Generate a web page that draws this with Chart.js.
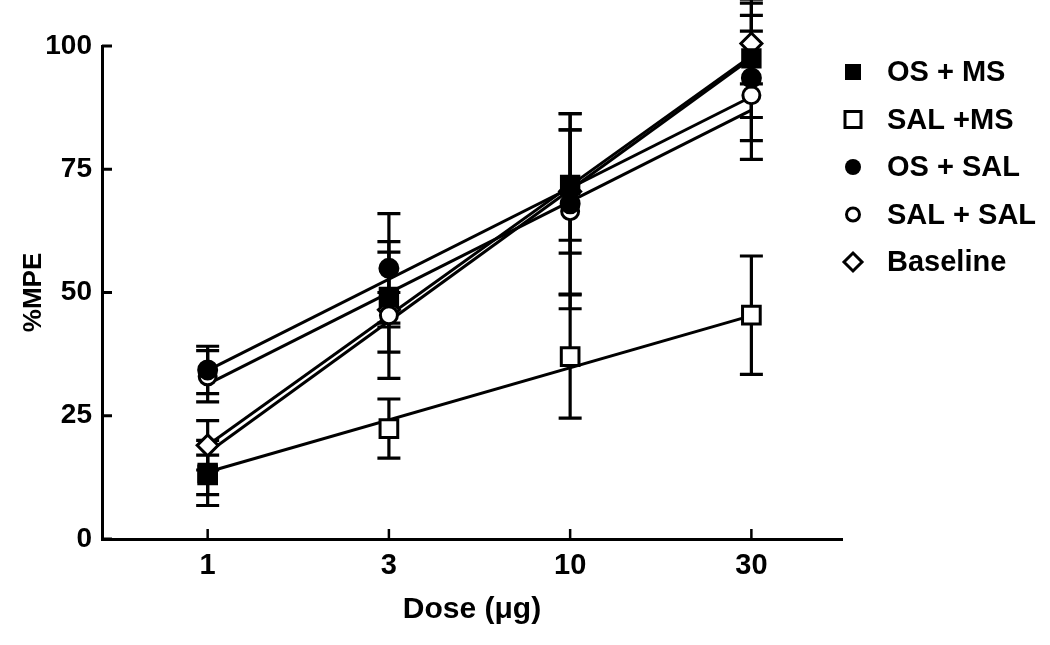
<!DOCTYPE html>
<html>
<head>
<meta charset="utf-8">
<script src="https://cdn.jsdelivr.net/npm/chart.js@4"></script>
<style>
html,body{margin:0;padding:0;background:#fff;}
#wrap{width:1050px;height:645px;}
</style>
</head>
<body>
<div id="wrap"><canvas id="c" width="1050" height="645"></canvas></div>
<script>
// ---- data ----
const doseLabels = ['1', '3', '10', '30'];
const groupNames = ['OS + MS', 'SAL +MS', 'OS + SAL', 'SAL + SAL', 'Baseline'];

const osMs      = [13.4, 49.1, 71.8, 97.5];
const osMsErr   = [6.6, 11.2, 11.2, 12.0];
const salMs     = [13.0, 22.4, 37.0, 45.4];
const salMsErr  = [4.0, 6.0, 12.5, 12.0];
const osSal     = [34.3, 54.9, 68.0, 93.5];
const osSalErr  = [4.8, 11.1, 18.3, 12.7];
const salSal    = [33.0, 45.4, 66.5, 90.0];
const salSalErr = [5.2, 12.8, 19.8, 13.0];
const baseline  = [19.0, 46.5, 70.5, 100.5];
const baselineErr = [5.0, 3.5, 12.5, 8.2];

// regression lines: value at dose 1 and at dose 30
const fitEnds = [0, 3];
const fitOsMs     = [17.5, 97.5];
const fitSalMs    = [13.6, 45.3];
const fitOsSal    = [34.2, 89.7];
const fitSalSal   = [31.4, 87.0];
const fitBaseline = [19.0, 98.0];

const yTicks = [0, 25, 50, 75, 100];

// ---- build ----
const pointSets = [osMs, salMs, osSal, salSal, baseline];
const errSets = [osMsErr, salMsErr, osSalErr, salSalErr, baselineErr];
const fitSets = [fitOsMs, fitSalMs, fitOsSal, fitSalSal, fitBaseline];
const styles = [
  {ps: 'rect',    r: 13,   fill: '#000', bw: 2},
  {ps: 'rect',    r: 12.5, fill: '#fff', bw: 3},
  {ps: 'circle',  r: 9.5,  fill: '#000', bw: 2},
  {ps: 'circle',  r: 8.5,  fill: '#fff', bw: 3},
  {ps: 'rectRot', r: 10.5, fill: '#fff', bw: 3}
];

const FONT = "'Liberation Sans', Arial, Helvetica, sans-serif";

const datasets = [];
pointSets.forEach((vals, k) => {
  datasets.push({
    label: groupNames[k],
    data: vals.map((v, i) => ({x: i, y: v})),
    showLine: false,
    pointStyle: styles[k].ps,
    pointRadius: styles[k].r,
    pointHoverRadius: styles[k].r,
    pointBackgroundColor: styles[k].fill,
    pointBorderColor: '#000',
    pointBorderWidth: styles[k].bw,
    order: 1,
    clip: false
  });
});
fitSets.forEach((vals, k) => {
  datasets.push({
    label: groupNames[k] + ' fit',
    data: vals.map((v, i) => ({x: fitEnds[i], y: v})),
    showLine: true,
    borderColor: '#000',
    borderWidth: 3,
    pointRadius: 0,
    order: 2,
    clip: false
  });
});

const errorBars = {
  id: 'errorBars',
  beforeDatasetsDraw(chart) {
    const {ctx, scales: {x, y}} = chart;
    ctx.save();
    ctx.strokeStyle = '#000';
    ctx.lineWidth = 3.2;
    pointSets.forEach((vals, k) => {
      const errs = errSets[k];
      vals.forEach((v, i) => {
        const px = x.getPixelForValue(i);
        const top = y.getPixelForValue(v + errs[i]);
        const bot = y.getPixelForValue(v - errs[i]);
        ctx.beginPath();
        ctx.moveTo(px, top); ctx.lineTo(px, bot);
        ctx.moveTo(px - 11.5, top); ctx.lineTo(px + 11.5, top);
        ctx.moveTo(px - 11.5, bot); ctx.lineTo(px + 11.5, bot);
        ctx.stroke();
      });
    });
    ctx.restore();
  }
};

const innerTicks = {
  id: 'innerTicks',
  afterDraw(chart) {
    const {ctx, chartArea: a, scales: {x, y}} = chart;
    ctx.save();
    ctx.strokeStyle = '#000';
    ctx.lineWidth = 3;
    yTicks.forEach(v => {
      const py = y.getPixelForValue(v);
      ctx.beginPath(); ctx.moveTo(a.left, py); ctx.lineTo(a.left + 10, py); ctx.stroke();
    });
    ctx.lineWidth = 2.5;
    doseLabels.forEach((_, i) => {
      const px = x.getPixelForValue(i);
      ctx.beginPath(); ctx.moveTo(px, a.bottom); ctx.lineTo(px, a.bottom - 10); ctx.stroke();
    });
    ctx.restore();
  }
};

const sideLegend = {
  id: 'sideLegend',
  afterDraw(chart) {
    const ctx = chart.ctx;
    const mx = 853, tx = 887, y0 = 72, dy = 47.5;
    ctx.save();
    ctx.font = 'bold 29px ' + FONT;
    ctx.textBaseline = 'middle';
    ctx.textAlign = 'left';
    groupNames.forEach((name, k) => {
      const cy = y0 + k * dy;
      ctx.fillStyle = '#000';
      ctx.strokeStyle = '#000';
      ctx.lineWidth = 3;
      ctx.beginPath();
      if (k === 0) { ctx.rect(mx - 8, cy - 8, 16, 16); ctx.fill(); }
      else if (k === 1) { ctx.fillStyle = '#fff'; ctx.rect(mx - 8, cy - 8, 16, 16); ctx.fill(); ctx.stroke(); }
      else if (k === 2) { ctx.arc(mx, cy, 8, 0, Math.PI * 2); ctx.fill(); }
      else if (k === 3) { ctx.fillStyle = '#fff'; ctx.arc(mx, cy, 6.5, 0, Math.PI * 2); ctx.fill(); ctx.stroke(); }
      else { ctx.fillStyle = '#fff'; ctx.moveTo(mx, cy - 9); ctx.lineTo(mx + 9, cy); ctx.lineTo(mx, cy + 9); ctx.lineTo(mx - 9, cy); ctx.closePath(); ctx.fill(); ctx.stroke(); }
      ctx.fillStyle = '#000';
      ctx.fillText(name, tx, cy + 1);
    });
    ctx.restore();
  }
};

new Chart(document.getElementById('c'), {
  type: 'scatter',
  data: {datasets},
  options: {
    responsive: false,
    animation: false,
    layout: {padding: {top: 46, right: 208, left: 0, bottom: 0}},
    plugins: {legend: {display: false}, tooltip: {enabled: false}},
    scales: {
      x: {
        type: 'linear', min: -0.583, max: 3.5,
        afterBuildTicks: s => { s.ticks = doseLabels.map((_, i) => ({value: i})); },
        afterFit: s => { s.height = 106; },
        ticks: {callback: v => doseLabels[v], color: '#000', padding: 10, autoSkip: false, maxRotation: 0,
                font: {family: FONT, size: 29, weight: 'bold'}},
        grid: {drawOnChartArea: false, drawTicks: false},
        border: {display: true, color: '#000', width: 3},
        title: {display: true, text: 'Dose (\u03bcg)', color: '#000', padding: {top: 0, bottom: 17},
                font: {family: FONT, size: 30, weight: 'bold'}}
      },
      y: {
        min: 0, max: 100,
        afterBuildTicks: s => { s.ticks = yTicks.map(v => ({value: v})); },
        afterFit: s => { s.width = 102; },
        ticks: {color: '#000', padding: 10, font: {family: FONT, size: 28, weight: 'bold'}},
        grid: {drawOnChartArea: false, drawTicks: false},
        border: {display: true, color: '#000', width: 3},
        title: {display: true, text: '%MPE', color: '#000', padding: {top: 18, bottom: 0},
                font: {family: FONT, size: 26, weight: 'bold'}}
      }
    }
  },
  plugins: [errorBars, innerTicks, sideLegend]
});
</script>
</body>
</html>
